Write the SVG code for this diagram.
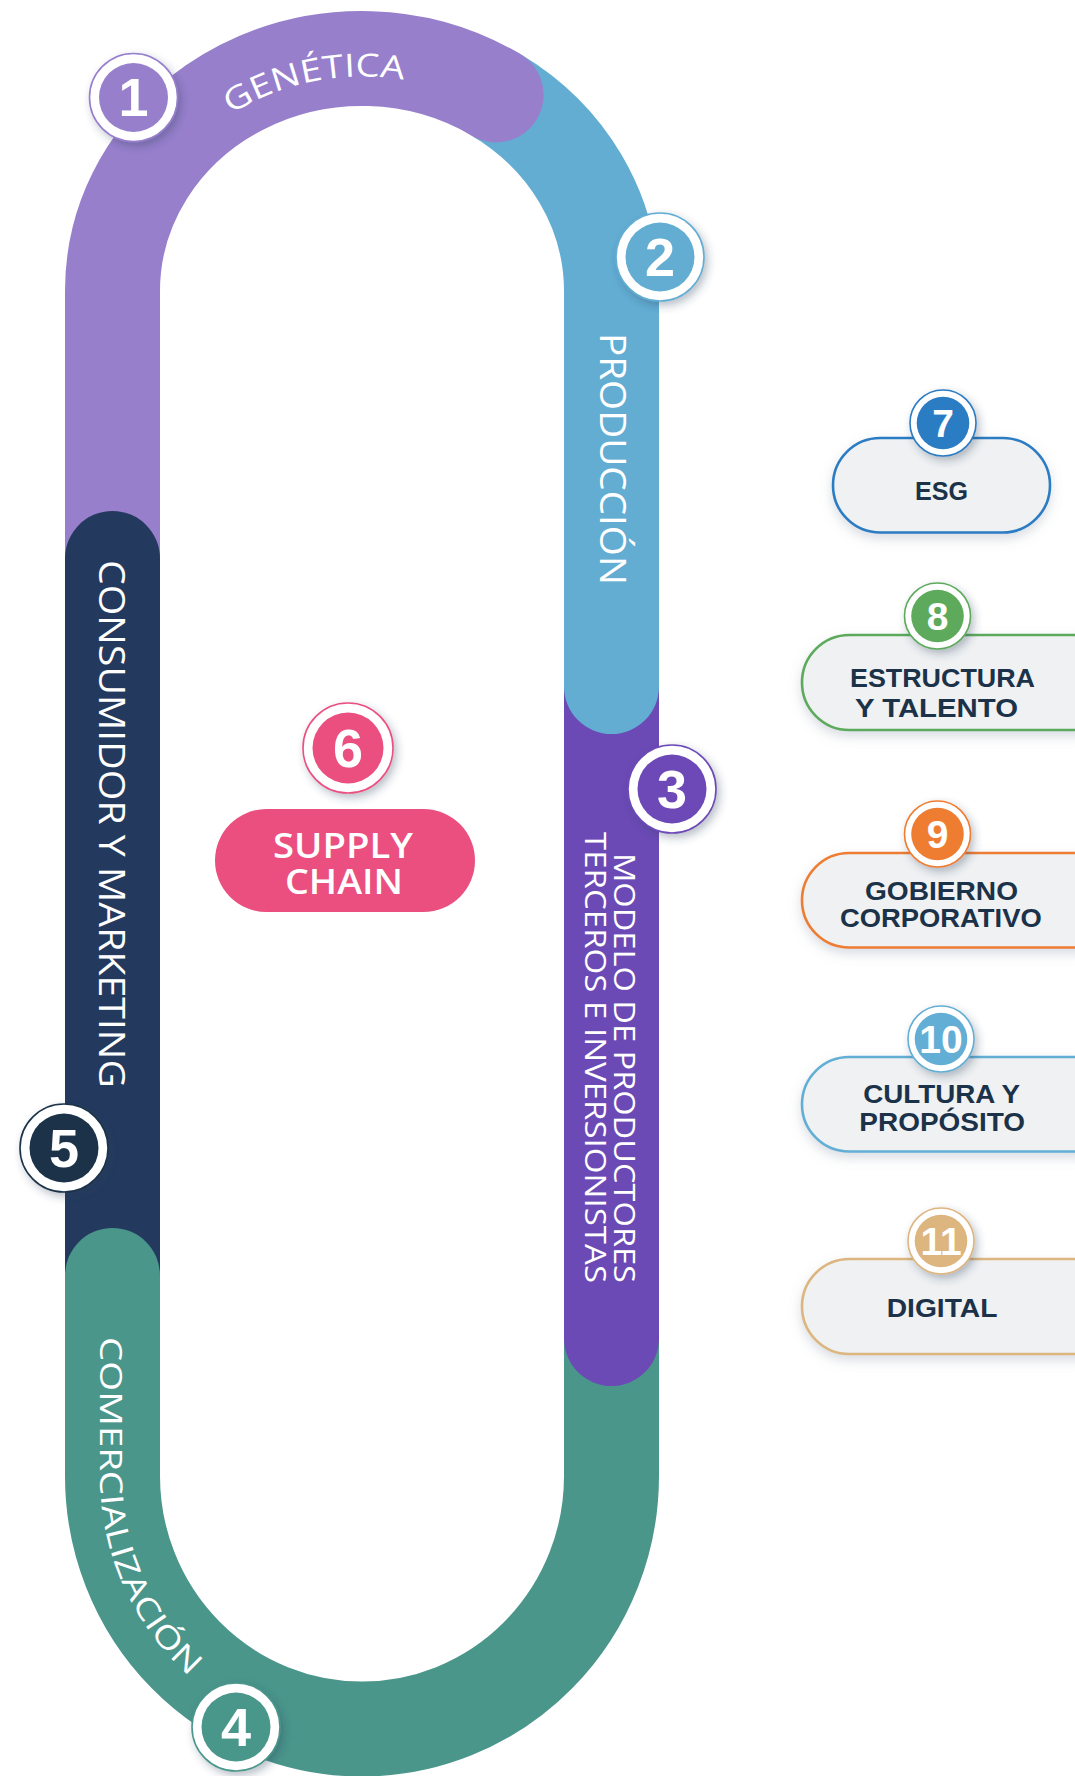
<svg xmlns="http://www.w3.org/2000/svg" width="1075" height="1776" viewBox="0 0 1075 1776">
<defs>
<style>
.seg{fill:none;stroke-width:95;stroke-linecap:butt}
.lbl{font-family:"Open Sans","Noto Sans","Liberation Sans",sans-serif;fill:#ffffff;font-weight:400}
.num{font-family:"Liberation Sans",Arial,sans-serif;font-weight:700;fill:#ffffff;text-anchor:middle}
.big{font-size:54px}
.small{font-size:39px}
.ring{fill:#ffffff;stroke-width:1.6}
.ptxt{font-family:"Liberation Sans",Arial,sans-serif;font-weight:700;fill:#1B3249;font-size:26px}
.pill{fill:#EFF1F3;stroke-width:2.6}
.sc{font-family:"Open Sans","Liberation Sans",sans-serif;font-weight:600;fill:#ffffff;font-size:34px}
</style>
<filter id="bsh" x="-50%" y="-50%" width="200%" height="200%"><feDropShadow dx="3" dy="4" stdDeviation="4" flood-color="#2a3b55" flood-opacity="0.33"/></filter>
<filter id="psh" x="-20%" y="-30%" width="140%" height="170%"><feDropShadow dx="0" dy="5" stdDeviation="6" flood-color="#7d8aa0" flood-opacity="0.3"/></filter>
<path id="genPath" d="M130.5,291 A231.5,214.5 0 0 1 593.5,291"/>
<path id="comPath" d="M100,1335 V1476 A262,266 0 0 0 362,1742"/>
</defs>

<g id="track">
<path class="seg" stroke="#977FCC" d="M112.5,558.5 V291 A249.5,232.5 0 0 1 496.05,94.9"/>
<path class="seg" stroke="#63ADD3" d="M496.05,94.9 A249.5,232.5 0 0 1 611.5,291 V686.5"/>
<path class="seg" stroke="#6C4AB6" d="M611.5,686.5 V1338.5"/>
<path class="seg" stroke="#4A968B" d="M611.5,1338.5 V1476 A249.5,253 0 0 1 362,1729 A249.5,253 0 0 1 112.5,1476 V1275.5"/>
<path class="seg" stroke="#233A5E" d="M112.5,1275.5 V558.5"/>
<circle cx="496.05" cy="94.9" r="47.5" fill="#977FCC"/>
<circle cx="611.5" cy="686.5" r="47.5" fill="#63ADD3"/>
<circle cx="611.5" cy="1338.5" r="47.5" fill="#6C4AB6"/>
<circle cx="112.5" cy="1275.5" r="47.5" fill="#4A968B"/>
<circle cx="112.5" cy="558.5" r="47.5" fill="#233A5E"/>
</g>

<g id="connectors"></g>

<g id="node1">
<text class="lbl" font-size="32"><textPath href="#genPath" startOffset="212" textLength="180" lengthAdjust="spacingAndGlyphs">GENÉTICA</textPath></text>
<g filter="url(#bsh)"><circle class="ring" cx="133.5" cy="97.5" r="44" stroke="#977FCC"/><circle cx="133.5" cy="97.5" r="34.5" fill="#977FCC"/></g>
<text class="num big" x="133.5" y="116">1</text>
</g>

<g id="node2">
<text class="lbl" font-size="36" transform="translate(600,333) rotate(90)" textLength="252" lengthAdjust="spacingAndGlyphs">PRODUCCIÓN</text>
<g filter="url(#bsh)"><circle class="ring" cx="660" cy="257" r="44" stroke="#63ADD3"/><circle cx="660" cy="257" r="34.5" fill="#63ADD3"/></g>
<text class="num big" x="660" y="276">2</text>
</g>

<g id="node3">
<text class="lbl" font-size="29" transform="translate(614,853) rotate(90)" textLength="430" lengthAdjust="spacingAndGlyphs">MODELO DE PRODUCTORES</text>
<text class="lbl" font-size="29" transform="translate(585,832) rotate(90)" textLength="451" lengthAdjust="spacingAndGlyphs">TERCEROS E INVERSIONISTAS</text>
<g filter="url(#bsh)"><circle class="ring" cx="672" cy="789" r="44" stroke="#6C4AB6"/><circle cx="672" cy="789" r="34.5" fill="#6C4AB6"/></g>
<text class="num big" x="672" y="808">3</text>
</g>

<g id="node4">
<text class="lbl" font-size="31"><textPath href="#comPath" startOffset="2" textLength="365" lengthAdjust="spacingAndGlyphs">COMERCIALIZACIÓN</textPath></text>
<g filter="url(#bsh)"><circle class="ring" cx="236" cy="1727" r="44" stroke="#4A968B"/><circle cx="236" cy="1727" r="34.5" fill="#4A968B"/></g>
<text class="num big" x="236" y="1746">4</text>
</g>

<g id="node5">
<text class="lbl" font-size="36" transform="translate(99,560) rotate(90)" textLength="528" lengthAdjust="spacingAndGlyphs">CONSUMIDOR Y MARKETING</text>
<g filter="url(#bsh)"><circle class="ring" cx="64" cy="1148" r="44" stroke="#1C3349"/><circle cx="64" cy="1148" r="34.5" fill="#1C3349"/></g>
<text class="num big" x="64" y="1167">5</text>
</g>

<g id="node6">
<g filter="url(#bsh)"><circle class="ring" cx="348" cy="748" r="45" stroke="#EA4F80"/><circle cx="348" cy="748" r="35.5" fill="#EA4F80"/></g>
<text class="num big" x="348" y="767">6</text>
<rect x="215" y="809" width="260" height="103" rx="51.5" fill="#EA4F80"/>
<text class="sc" x="273" y="858" textLength="140" lengthAdjust="spacingAndGlyphs">SUPPLY</text>
<text class="sc" x="285" y="894" textLength="118" lengthAdjust="spacingAndGlyphs">CHAIN</text>
</g>

<g id="node7">
<rect class="pill" x="833" y="438" width="217" height="94.5" rx="47.25" stroke="#2B7BC3" filter="url(#psh)"/>
<g filter="url(#bsh)"><circle class="ring" cx="943" cy="423" r="33" stroke="#2B7BC3"/><circle cx="943" cy="423" r="26.3" fill="#2B7BC3"/></g>
<text class="num small" x="943" y="437">7</text>
<text class="ptxt" x="915" y="500" textLength="53" lengthAdjust="spacingAndGlyphs">ESG</text>
</g>

<g id="node8">
<rect class="pill" x="802" y="635" width="320" height="95" rx="47.5" stroke="#5DAA5C" filter="url(#psh)"/>
<g filter="url(#bsh)"><circle class="ring" cx="937.5" cy="616" r="33" stroke="#5DAA5C"/><circle cx="937.5" cy="616" r="26.3" fill="#5DAA5C"/></g>
<text class="num small" x="937.5" y="630">8</text>
<text class="ptxt" x="850" y="686.7" textLength="185" lengthAdjust="spacingAndGlyphs">ESTRUCTURA</text>
<text class="ptxt" x="855" y="716.7" textLength="163" lengthAdjust="spacingAndGlyphs">Y TALENTO</text>
</g>

<g id="node9">
<rect class="pill" x="802" y="853" width="320" height="94.5" rx="47.25" stroke="#EE7D30" filter="url(#psh)"/>
<g filter="url(#bsh)"><circle class="ring" cx="937.5" cy="834" r="33" stroke="#EE7D30"/><circle cx="937.5" cy="834" r="26.3" fill="#EE7D30"/></g>
<text class="num small" x="937.5" y="848">9</text>
<text class="ptxt" x="865" y="900" textLength="153" lengthAdjust="spacingAndGlyphs">GOBIERNO</text>
<text class="ptxt" x="840" y="926.7" textLength="201.7" lengthAdjust="spacingAndGlyphs">CORPORATIVO</text>
</g>

<g id="node10">
<rect class="pill" x="802" y="1057" width="320" height="94.5" rx="47.25" stroke="#62AED5" filter="url(#psh)"/>
<g filter="url(#bsh)"><circle class="ring" cx="941" cy="1039" r="33" stroke="#62AED5"/><circle cx="941" cy="1039" r="26.3" fill="#62AED5"/></g>
<text class="num small" x="941" y="1053">10</text>
<text class="ptxt" x="863.3" y="1103.3" textLength="156.7" lengthAdjust="spacingAndGlyphs">CULTURA Y</text>
<text class="ptxt" x="859.3" y="1130.7" textLength="165.7" lengthAdjust="spacingAndGlyphs">PROPÓSITO</text>
</g>

<g id="node11">
<rect class="pill" x="802" y="1259" width="320" height="95" rx="47.5" stroke="#DDB57E" filter="url(#psh)"/>
<g filter="url(#bsh)"><circle class="ring" cx="941" cy="1241" r="33" stroke="#DDB57E"/><circle cx="941" cy="1241" r="26.3" fill="#DDB57E"/></g>
<text class="num small" x="941" y="1255">11</text>
<text class="ptxt" x="886.7" y="1316.7" textLength="110.7" lengthAdjust="spacingAndGlyphs">DIGITAL</text>
</g>
</svg>
